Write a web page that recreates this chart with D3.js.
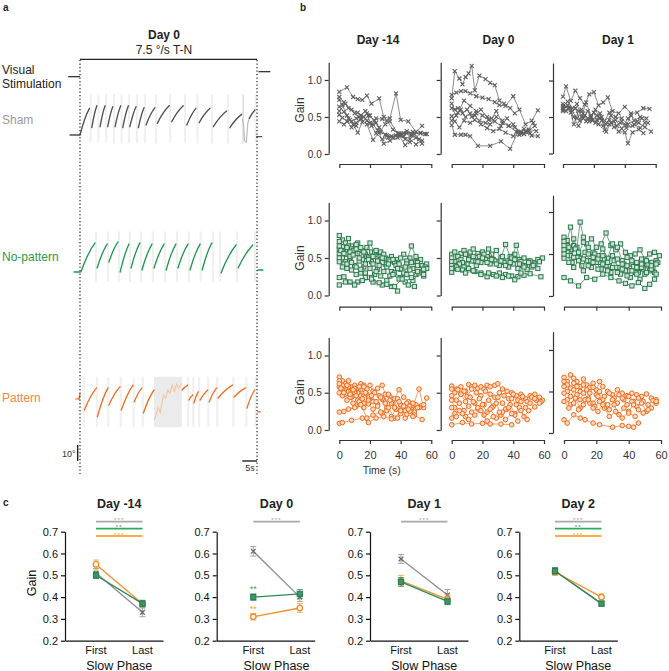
<!DOCTYPE html>
<html><head><meta charset="utf-8">
<script src="https://cdn.jsdelivr.net/npm/d3@7"></script>
<style>body{margin:0;background:#fff} text{font-family:Arial,"Liberation Sans",Helvetica,sans-serif}</style>
</head><body>
<svg id="fig" width="669" height="671"></svg>
<script>
// ---------------- DATA: panel a (eye traces) ----------------
// slow-phase segments: [tStart(s), tEnd(s), posStart(deg), posEnd(deg)]
const shamSegments = [[-3.4,-0.2,-9.4,-9.4],[0,3.2,-9.4,7.3],[4.0,5.7,-4.8,8.9],[6.8,8.5,-4.2,8.9],[9.4,11.1,-4.2,8.3],[11.9,13.8,-4.2,8.9],[14.5,16.4,-4.8,8.9],[16.9,19.0,-4.2,8.3],[19.8,21.7,-4.8,7.7],[22.4,25.4,-3.1,7.7],[26.2,30.3,-2.1,9.0],[31.1,35.0,-1.0,8.9],[36.2,39.3,-3.1,7.3],[40.4,44.1,-1.7,7.3],[45.2,49.7,-4.2,5.6],[50.8,54.8,-4.8,3.5],[57.4,59.3,1,6.3],[59.9,61.6,-10.4,-10.4]];
const shamSaccades = [3.6,6.2,8.9,11.5,14.1,16.6,19.3,22.0,25.8,30.6,35.6,39.8,44.7,50.2,59.5];
const shamArtifact = [[55.0,55.6],[55.0,1],[55.5,-4],[55.8,-13],[56.4,-14],[56.9,-2],[57.3,1]];
const noPatternSegments = [[-2.0,-0.1,-9.4,-9.4],[0.3,5.1,-9.4,8.8],[5.8,9.2,-6.9,8.1],[9.8,12.9,-3.1,9.4],[13.6,16.6,-9.4,8.1],[17.3,20.3,-6.9,8.8],[21.0,24.4,-8.1,8.1],[25.1,28.5,-6.9,8.1],[29.2,32.5,-8.1,8.1],[33.2,36.6,-6.9,8.1],[37.3,40.7,-8.1,8.1],[41.4,44.7,-8.1,8.8],[47.8,52.9,-10,7.5],[53.6,58.6,-6.9,7.5],[60.3,62.0,-8.1,-8.1]];
const noPatternSaccades = [5.4,9.5,13.2,16.9,20.7,24.7,28.8,32.9,36.9,40.9,45.1,47.5,53.2,59.3];
const patternSegments = [[-1.4,-0.3,-0.5,-0.5],[-0.3,0,-0.5,2.5],[1.5,5.6,-7.5,6.3],[5.9,9.5,-11.7,6.3],[9.8,13.6,-4.4,7.1],[14.0,18.0,-7.5,8.1],[18.4,21.0,-2.3,6.3],[21.5,25.1,-9.4,5],[34.6,36.5,5,8.1],[36.9,38.2,-1.3,1.9],[38.6,40.1,-3.1,3.8],[40.7,43.3,-1.3,5],[43.8,46.3,-2.5,6.3],[46.8,51.7,0,8.1],[52.2,56.1,0.6,6.3],[56.6,59.2,-6.3,5],[60.3,61.0,-8.6,-8.6]];
const patternSaccades = [1.3,5.7,9.6,13.8,18.2,21.3,36.7,38.4,40.4,43.5,46.5,52.0,56.4,59.5];
const patternArtifact = [[25.1,34.5],[25.2,-13.8],[26.5,-6],[27.2,-9],[28.3,2],[29,0],[29.8,5],[30.5,3],[31.2,8],[32,4],[32.8,9],[33.5,6],[34.4,9.4]];

// ---------------- DATA: panel b (gain per slow phase, [t,g,t,g,...]) ----------------
const bDays = ["Day -14","Day 0","Day 1"];
const bYTicks = [0, 0.5, 1.0];
const bXTicks = [0, 20, 40, 60];
const shamD14 = [
 [0,.84,5,.90,9,.77,12,.74,15,.73,18,.79,21,.68,26,.75,29,.50,33,.48,37,.82,40,.46,45,.44,50,.30,54,.38],
 [0,.77,3,.70,6,.62,10,.55,13,.50,17,.58,20,.52,24,.42,27,.30,31,.25,35,.22,40,.26,44,.28,48,.30,53,.28,57,.27],
 [0,.73,2,.66,5,.52,8,.44,11,.48,14,.52,18,.45,22,.40,25,.32,29,.14,33,.18,38,.22,42,.24,46,.16,50,.22,54,.14],
 [0,.64,3,.57,6,.48,9,.40,12,.29,15,.43,19,.52,23,.45,26,.36,30,.26,34,.24,39,.26,43,.20,47,.25,52,.20],
 [0,.53,2,.49,5,.44,8,.36,11,.42,14,.47,18,.55,21,.38,24,.28,28,.20,32,.22,37,.25,42,.28,47,.27],
 [0,.44,3,.40,7,.46,11,.38,14,.48,18,.40,22,.19,26,.29,30,.40,33,.44,38,.28,43,.12,46,.20,50,.13,54,.18],
 [0,.58,4,.68,8,.60,12,.56,16,.50,20,.42,24,.48,28,.47,31,.45,35,.33,39,.28,44,.31,49,.27,53,.29,56,.27]];
const shamD0 = [
 [0,.75,2,1.12,5,1.02,7,.94,9,1.04,11,1.09,13,1.19,15,.86,18,1.06,22,1.01,25,.96,28,.93,31,.72,34,.68,38,.62,41,.55],
 [0,.80,3,.83,6,.85,9,.85,12,.82,16,.78,20,.76,24,.74,28,.70,31,.66,35,.65,40,.78,44,.60,48,.40,52,.45,56,.59],
 [0,.68,2,.60,4,.62,7,.55,10,.60,13,.50,16,.55,19,.60,23,.50,26,.48,29,.58,33,.42,37,.38,42,.30,47,.27,51,.28],
 [0,.62,3,.52,6,.60,9,.50,12,.55,15,.52,18,.45,22,.42,25,.40,29,.50,33,.45,37,.38,41,.36,45,.30,50,.33,55,.31],
 [0,.51,2,.44,5,.36,8,.45,12,.42,15,.46,19,.40,23,.35,27,.31,31,.34,35,.29,40,.24,44,.26,48,.30,53,.42],
 [0,.39,2,.26,6,.26,9,.26,12,.24,17,.11,25,.11,32,.17,38,.07,43,.30,47,.34,52,.25,56,.24],
 [0,.45,4,.56,8,.72,12,.65,16,.58,20,.52,24,.46,28,.44,32,.38,36,.48,40,.40,45,.28,50,.31,54,.38]];
const shamD1 = [
 [0,.78,2,.92,5,.72,8,.86,11,.76,14,.67,17,.81,20,.84,23,.66,26,.70,29,.77,32,.58,36,.55,40,.64,44,.55,48,.56,52,.62,56,.61],
 [0,.65,3,.71,6,.62,9,.68,12,.50,15,.70,18,.52,21,.60,24,.48,27,.45,30,.56,34,.50,38,.48,42,.40,46,.45,50,.50,54,.48],
 [0,.62,2,.58,4,.64,7,.40,10,.58,13,.55,16,.48,19,.45,22,.46,25,.50,28,.30,31,.42,35,.38,38,.44,41,.35,45,.38,49,.42,53,.36,57,.30],
 [0,.60,3,.66,6,.58,9,.48,12,.60,15,.44,18,.50,21,.42,24,.55,27,.32,30,.40,33,.44,36,.30,40,.29,42,.14,45,.29,49,.33,52,.28],
 [0,.68,2,.64,5,.56,8,.62,11,.45,14,.52,17,.44,20,.56,23,.40,26,.38,30,.46,33,.36,37,.42,41,.39,44,.52,48,.44,51,.48,55,.42],
 [0,.58,4,.62,7,.50,10,.38,13,.48,16,.58,19,.46,22,.52,25,.45,28,.40,31,.52,34,.46,38,.34,42,.48,46,.40,50,.35,53,.42]];
const noPatD14 = [
 [0,.80,2,.74,4,.70,6,.76,8,.66,10,.62,12,.70,15,.60,18,.64,21,.58,24,.55,27,.58,30,.50,34,.52,38,.48,42,.55,46,.50,50,.45,54,.40,57,.42],
 [0,.72,2,.65,4,.60,6,.66,8,.62,11,.68,14,.64,17,.55,20,.70,23,.58,26,.52,29,.55,32,.48,36,.44,40,.50,44,.46,47,.66,50,.52,53,.48,56,.38],
 [0,.62,2,.58,5,.55,7,.50,9,.60,12,.56,15,.48,18,.52,21,.45,24,.60,27,.48,30,.42,33,.46,37,.40,40,.35,44,.42,48,.36,51,.44,55,.34],
 [0,.56,2,.50,4,.45,7,.52,10,.40,13,.46,16,.38,19,.50,22,.42,25,.35,28,.44,31,.38,34,.32,38,.36,42,.30,46,.34,50,.28,54,.32,57,.36],
 [0,.50,3,.42,5,.36,8,.44,11,.38,14,.30,17,.42,20,.36,23,.28,26,.40,29,.32,33,.26,36,.30,40,.24,44,.28,48,.20,52,.30,55,.26],
 [0,.45,2,.38,5,.42,8,.34,11,.28,14,.35,17,.30,21,.24,24,.32,27,.26,31,.20,35,.28,39,.22,43,.18,47,.24,51,.32,55,.28],
 [0,.24,3,.25,7,.18,12,.18,17,.24,22,.18,28,.14,34,.12,38,.06],
 [0,.14,4,.18,10,.14,15,.20,21,.22,26,.17,31,.15,36,.12,41,.22,45,.14,49,.12],
 [0,.66,1,.60,3,.56,5,.64,7,.58,9,.54,11,.62,13,.50,16,.58,19,.48,22,.52,25,.46,28,.50,32,.42,35,.48,39,.42,43,.38,47,.44,51,.40,55,.35]];
const noPatD0 = [
 [0,.55,2,.58,4,.52,6,.56,8,.60,10,.55,12,.58,14,.62,17,.56,20,.58,23,.52,26,.55,29,.60,32,.50,35,.68,38,.52,41,.55,44,.48,47,.50,50,.46,53,.44,56,.48,59,.50],
 [0,.50,2,.45,4,.52,6,.48,9,.55,12,.50,15,.46,18,.52,21,.55,24,.62,27,.48,30,.45,33,.52,36,.46,39,.50,42,.67,45,.45,48,.40,51,.46,54,.42,57,.45],
 [0,.45,2,.40,4,.38,7,.44,10,.42,13,.46,16,.40,19,.44,22,.48,25,.42,28,.46,31,.40,34,.44,37,.38,40,.42,43,.36,46,.40,49,.35,52,.38],
 [0,.40,2,.36,5,.42,8,.38,11,.48,14,.52,17,.45,20,.50,23,.44,26,.48,29,.42,32,.46,35,.40,38,.44,41,.48,44,.42,47,.38,50,.44,53,.40,56,.36],
 [0,.31,3,.38,7,.34,11,.36,15,.32,19,.30,23,.25,27,.28,31,.30,35,.28,39,.26,43,.25,47,.27,51,.29,58,.25],
 [0,.36,4,.35,9,.30,14,.33,19,.28,24,.30,29,.26,33,.24,37,.26,41,.21,45,.30]];
const noPatD1 = [
 [0,.70,2,.66,4,.82,6,.60,8,.58,10,.88,12,.70,14,.62,17,.68,20,.58,23,.62,26,.75,29,.60,32,.55,35,.62,38,.52,41,.48,44,.50,47,.55,50,.44,53,.50,56,.52,59,.48],
 [0,.65,2,.60,4,.55,6,.68,9,.50,12,.64,15,.58,18,.52,21,.48,24,.56,27,.45,30,.62,33,.58,36,.42,39,.46,42,.38,45,.40,48,.44,51,.36,54,.40,57,.42],
 [0,.60,2,.52,4,.48,7,.56,10,.45,13,.52,16,.42,19,.50,22,.40,25,.44,28,.36,31,.42,34,.34,37,.38,40,.30,43,.35,46,.28,49,.32,52,.38,55,.34,58,.40],
 [0,.55,2,.48,5,.40,8,.46,11,.36,14,.42,17,.34,20,.40,23,.32,26,.36,29,.28,32,.34,35,.26,38,.30,41,.22,44,.28,47,.20,50,.26,53,.30,56,.28],
 [0,.45,3,.40,6,.34,9,.42,12,.30,15,.36,18,.40,21,.32,24,.38,27,.30,30,.34,33,.28,36,.32,39,.24,42,.30,45,.26,48,.34,51,.28,54,.32,57,.26],
 [0,.22,4,.18,9,.12,14,.22,19,.20,24,.26,29,.22,34,.18,38,.15,42,.12,46,.16,50,.09,53,.14,56,.20],
 [0,.50,3,.58,6,.46,9,.52,12,.44,15,.50,18,.46,21,.44,24,.48,27,.40,30,.48,33,.44,36,.38,39,.36,42,.42,45,.34,48,.38,51,.42,54,.36,57,.38]];
const patD14 = [
 [0,.71,2,.66,4,.62,6,.66,8,.58,10,.60,12,.56,14,.62,16,.60,18,.55,20,.60,22,.52,25,.56,28,.60,30,.48,33,.45,36,.42,39,.54,42,.44,45,.38,48,.32,52,.55,55,.30,57,.43],
 [0,.66,2,.60,4,.55,6,.58,8,.52,10,.56,12,.50,14,.54,16,.58,18,.48,20,.44,23,.50,26,.46,29,.40,32,.48,35,.36,38,.42,41,.30,44,.36,47,.28,50,.34,53,.32],
 [0,.58,2,.54,4,.48,6,.52,8,.44,10,.50,12,.40,14,.46,16,.36,19,.44,22,.38,25,.34,28,.42,31,.30,34,.36,37,.28,40,.34,43,.26,46,.32,49,.24,52,.30,55,.34],
 [0,.50,2,.46,5,.40,7,.44,9,.36,11,.32,13,.38,16,.30,19,.35,22,.28,25,.32,28,.22,31,.26,34,.18,37,.28,40,.22,43,.16,46,.25,49,.20,54,.14],
 [0,.24,3,.25,6,.28,10,.30,14,.34,18,.16,22,.20,27,.24,32,.30,36,.16,40,.26,44,.21,48,.18],
 [0,.09,2,.10,8,.13,15,.16,19,.10,24,.16,29,.18,34,.15,38,.16],
 [0,.62,1,.56,3,.50,5,.60,7,.48,9,.54,11,.46,13,.58,15,.42,17,.50,19,.40,21,.46,24,.38,27,.44,30,.36,33,.40,36,.30,39,.38,42,.32,45,.28,48,.36,51,.30]];
const patD0 = [
 [0,.59,3,.55,6,.58,9,.52,11,.61,13,.58,15,.60,17,.56,19,.58,21,.55,23,.60,25,.58,28,.60,30,.62,33,.55,36,.52,39,.50,42,.46,45,.48,48,.42,51,.46,54,.48,57,.44,59,.40],
 [0,.55,2,.50,4,.54,6,.48,8,.52,10,.45,13,.55,16,.50,19,.46,22,.52,25,.48,28,.44,31,.50,34,.46,37,.42,40,.48,43,.40,46,.45,49,.38,52,.44,55,.40,58,.38],
 [0,.46,3,.40,6,.48,9,.38,12,.44,15,.36,18,.42,21,.34,24,.40,27,.32,30,.44,33,.36,36,.28,39,.42,42,.34,45,.38,48,.30,51,.36,54,.42,57,.36],
 [0,.40,2,.30,5,.36,8,.26,11,.32,14,.38,17,.28,20,.34,23,.24,26,.30,29,.36,32,.20,35,.28,38,.34,41,.22,44,.30,47,.18,50,.26,54,.31],
 [0,.30,2,.22,5,.26,9,.18,13,.24,17,.30,21,.20,25,.28,29,.16,33,.24,37,.30,41,.20,45,.26,49,.14],
 [0,.16,3,.18,7,.22,11,.14,15,.20,19,.26,23,.12,27,.18,31,.24,35,.14,39,.22,43,.12],
 [0,.07,7,.10,13,.08,20,.09,25,.08,32,.08,39,.07]];
const patD1 = [
 [0,.67,2,.62,4,.70,6,.66,8,.62,10,.56,12,.65,14,.58,16,.55,18,.60,20,.52,22,.62,24,.56,27,.50,30,.46,33,.52,36,.48,39,.45,42,.48,45,.46,48,.44,51,.47,54,.42,57,.40],
 [0,.62,2,.58,4,.54,6,.60,8,.56,10,.50,12,.58,14,.52,16,.48,18,.55,20,.46,22,.50,25,.44,28,.48,31,.42,34,.46,37,.40,40,.44,43,.38,46,.42,49,.38,52,.34,55,.39,57,.36],
 [0,.56,2,.50,4,.44,6,.52,8,.46,10,.40,12,.48,15,.42,18,.36,21,.44,24,.40,27,.34,30,.40,33,.36,36,.42,39,.34,42,.38,45,.32,48,.36,51,.26,54,.30,57,.38],
 [0,.48,2,.40,4,.34,7,.42,10,.30,13,.40,16,.36,19,.32,22,.38,25,.30,28,.28,31,.34,34,.22,37,.30,40,.26,43,.34,46,.28,49,.24,52,.28],
 [0,.38,3,.30,6,.36,9,.28,12,.34,15,.40,18,.30,21,.26,24,.34,28,.20,32,.26,36,.18,40,.24,44,.20],
 [0,.16,2,.12,6,.22,10,.18,13,.16,18,.12,22,.10,30,.07,36,.09,40,.08,43,.07,46,.12]];

// ---------------- DATA: panel c (mean gain first/last slow phase) ----------------
const cDays = ["Day -14","Day 0","Day 1","Day 2"];
const cPhases = ["First","Last"];
const cYTicks = [0.2,0.3,0.4,0.5,0.6,0.7];
const cSham = [[0.51,0.33],[0.61,0.40],[0.575,0.41],[0.52,0.37]];
const cShamErr = [[0.02,0.02],[0.022,0.02],[0.02,0.025],[0.015,0.01]];
const cNoPat = [[0.50,0.37],[0.40,0.415],[0.47,0.38],[0.52,0.37]];
const cNoPatErr = [[0.015,0.015],[0.015,0.02],[0.02,0.015],[0.015,0.01]];
const cPat = [[0.55,0.37],[0.31,0.35],[0.475,0.39],[0.515,0.40]];
const cPatErr = [[0.02,0.015],[0.015,0.02],[0.025,0.02],[0.015,0.015]];
const cSigSham = ["***","***","***","***"];
const cSigNoPat = ["**",null,null,"**"];
const cSigPat = ["***",null,null,"***"];
const cMarkNoPatFirst = [null,"**",null,null];
const cMarkPatFirst = [null,"**",null,null];

// ---------------- DRAWING ----------------
const svg = d3.select("#fig");
function T(g,x,y,s,o={}){
  const t=g.append("text").attr("x",x).attr("y",y).text(s)
    .attr("font-size",o.size||11).attr("fill",o.fill||"#222")
    .attr("text-anchor",o.anchor||"start");
  if(o.bold) t.attr("font-weight","bold");
  if(o.ls) t.attr("letter-spacing",o.ls);
  if(o.rotate) t.attr("transform",`rotate(-90,${x},${y})`);
  return t;
}
// panel labels
T(svg,3,11,"a",{size:10,bold:true});
T(svg,300,11,"b",{size:10,bold:true});
T(svg,3,506,"c",{size:10,bold:true});

// ===== Panel a =====
const gA = svg.append("g");
const xA = d3.scaleLinear().domain([0,60]).range([80,257]);
T(gA,164,38.5,"Day 0",{size:12,bold:true,anchor:"middle"});
T(gA,164,54,"7.5 °/s T-N",{size:12,anchor:"middle"});
T(gA,2,74,"Visual",{size:12});
T(gA,2,88,"Stimulation",{size:12});
// stimulation trace
gA.append("path").attr("d",`M${xA(-4)},76.7H${xA(0)}`).attr("stroke","#222").attr("stroke-width",1.2);
gA.append("path").attr("d",`M${xA(0)},59.3H${xA(60)}`).attr("stroke","#222").attr("stroke-width",1.2);
gA.append("path").attr("d",`M${xA(60.5)},71.7H${xA(64.5)}`).attr("stroke","#222").attr("stroke-width",1.2);

const traces = [
 {label:"Sham", segs:shamSegments, sacc:shamSaccades, art:shamArtifact, center:120, col:"#505050", lab:"#9a9a9a", band:[16,-14.5], artCol:"#b8b8b8", artFill:"#e2e2e2"},
 {label:"No-pattern", segs:noPatternSegments, sacc:noPatternSaccades, art:null, center:257, col:"#1e9a4c", lab:"#2f9a44", band:[16,-15.5]},
 {label:"Pattern", segs:patternSegments, sacc:patternSaccades, art:patternArtifact, center:398, col:"#f26f22", lab:"#f3873a", band:[13.3,-18.3], artCol:"#f7c4a0", artFill:"#ebebeb"}
];
traces.forEach(tr=>{
  const yA = d3.scaleLinear().domain([-20,20]).range([tr.center+32,tr.center-32]);
  const g = gA.append("g");
  // saccade bands
  g.selectAll("rect.s").data(tr.sacc).join("rect")
    .attr("x",d=>xA(d-0.35)).attr("width",d=>xA(d+0.35)-xA(d-0.35))
    .attr("y",yA(tr.band[0])).attr("height",yA(tr.band[1])-yA(tr.band[0]))
    .attr("fill","#f0f0f0");
  if(tr.art){
    const span = tr.art[0], pts = tr.art.slice(1);
    g.append("rect").attr("x",xA(span[0])).attr("width",xA(span[1])-xA(span[0]))
      .attr("y",yA(tr.band[0])).attr("height",yA(tr.band[1])-yA(tr.band[0])).attr("fill",tr.artFill);
    g.append("path").attr("d",d3.line().x(d=>xA(d[0])).y(d=>yA(d[1]))(pts))
      .attr("fill","none").attr("stroke",tr.artCol).attr("stroke-width",1.1);
  }
  tr.segs.forEach(s=>{
    const x0=xA(s[0]),x1=xA(s[1]),y0=yA(s[2]),y1=yA(s[3]);
    const p=d3.path(); p.moveTo(x0,y0);
    p.quadraticCurveTo(x0+0.5*(x1-x0), y0+0.68*(y1-y0), x1, y1);
    g.append("path").attr("d",p.toString()).attr("fill","none")
      .attr("stroke",tr.col).attr("stroke-width",1.35).attr("stroke-linecap","round");
  });
  T(gA,2,tr.center+4,tr.label,{size:12,fill:tr.lab});
});
// dotted stimulus on/off lines
[0,60].forEach(t=>{
  gA.append("line").attr("x1",xA(t)).attr("x2",xA(t)).attr("y1",60).attr("y2",474)
    .attr("stroke","#222").attr("stroke-width",1.2).attr("stroke-dasharray","1.3,2.2");
});
// scale bars
const degBar = d3.scaleLinear().domain([0,10]).range([461,445]);
gA.append("line").attr("x1",77.7).attr("x2",77.7).attr("y1",degBar(0)).attr("y2",degBar(10)).attr("stroke","#111").attr("stroke-width",1.3);
T(gA,75.5,457,"10°",{size:9,anchor:"end",fill:"#333"});
gA.append("line").attr("x1",xA(55)).attr("x2",xA(60)).attr("y1",461).attr("y2",461).attr("stroke","#111").attr("stroke-width",1.3);
T(gA,xA(57.6),470.5,"5s",{size:9,anchor:"middle",fill:"#333"});

// ===== Panel b =====
const gB = svg.append("g");
const bTitleX = [378, 498.5, 618];
bDays.forEach((d,i)=>T(gB,bTitleX[i],44,d,{size:12,bold:true,anchor:"middle"}));
const bAxisX = [328.7, 440.7, 553];
const bLayout = [
 [{y0:154,yt:62.2,ym:1.24,xa:164,xr:[339.3,431.3]},{y0:154,yt:62.2,ym:1.24,xa:164,xr:[451.7,544]},{y0:153.5,yt:63,ym:1.24,xa:164,xr:[563,655.7]}],
 [{y0:295.5,yt:202.5,ym:1.24,xa:306.7,xr:[339.3,431.3]},{y0:295.5,yt:202.5,ym:1.24,xa:306.7,xr:[451.7,544]},{y0:296,yt:195.2,ym:1.2,xa:306.7,xr:[564,661]}],
 [{y0:430,yt:337.6,ym:1.24,xa:440,xr:[339.3,431.3]},{y0:430,yt:337.6,ym:1.24,xa:440,xr:[451.7,544]},{y0:433,yt:331.7,ym:1.22,xa:440,xr:[564,661]}]
];
const bRows = [
 {data:[shamD14,shamD0,shamD1], line:"#5a5a5a", mk:"x", stroke:"#5f5f5f", fill:"none"},
 {data:[noPatD14,noPatD0,noPatD1], line:"#2d7a50", mk:"sq", stroke:"#2b7a4e", fill:"#cfe3d5"},
 {data:[patD14,patD0,patD1], line:"#f07a2c", mk:"ci", stroke:"#f0691a", fill:"#fdd9bd"}
];
const bGainY = [110, 258, 392];
bRows.forEach((row,ri)=>{
  T(gB,303.5,bGainY[ri],"Gain",{size:12,anchor:"middle",rotate:true,fill:"#333"});
  row.data.forEach((ser,ci)=>{
    const L = bLayout[ri][ci];
    const x = d3.scaleLinear().domain([0,60]).range(L.xr);
    const y = d3.scaleLinear().domain([0,L.ym]).range([L.y0,L.yt]);
    const g = gB.append("g");
    const yAx = g.append("g").attr("transform",`translate(${bAxisX[ci]},0)`)
      .call(d3.axisLeft(y).tickValues(bYTicks).tickSize(4).tickSizeOuter(0)
        .tickFormat(ci===0?d3.format(".1f"):()=>""));
    const xAx = g.append("g").attr("transform",`translate(0,${L.xa})`)
      .call(d3.axisBottom(x).tickValues(bXTicks).tickSize(4).tickSizeOuter(0)
        .tickFormat(ri===2?d3.format("d"):()=>""));
    [yAx,xAx].forEach(a=>{
      a.selectAll("path,line").attr("stroke","#333").attr("stroke-width",1.2);
      a.selectAll("text").attr("font-size",ri===2&&a===xAx?11:10).attr("fill","#333")
        .attr("font-family",'Arial,"Liberation Sans",sans-serif');
    });
    xAx.selectAll("text").attr("dy","1.05em");
    ser.forEach(arr=>{
      const pts=[]; for(let k=0;k<arr.length;k+=2) pts.push([arr[k],arr[k+1]]);
      g.append("path").attr("d",d3.line().x(d=>x(d[0])).y(d=>y(d[1]))(pts))
        .attr("fill","none").attr("stroke",row.line).attr("stroke-width",0.7);
      pts.forEach(d=>{
        const px=x(d[0]), py=y(d[1]);
        if(row.mk==="x"){
          g.append("path").attr("d",`M${px-2},${py-2}L${px+2},${py+2}M${px-2},${py+2}L${px+2},${py-2}`)
            .attr("stroke",row.stroke).attr("stroke-width",1.1);
        } else if(row.mk==="sq"){
          g.append("rect").attr("x",px-2.1).attr("y",py-2.1).attr("width",4.2).attr("height",4.2)
            .attr("fill",row.fill).attr("stroke",row.stroke).attr("stroke-width",1);
        } else {
          g.append("circle").attr("cx",px).attr("cy",py).attr("r",2.3)
            .attr("fill",row.fill).attr("stroke",row.stroke).attr("stroke-width",1);
        }
      });
    });
  });
});
T(gB,381.7,474,"Time (s)",{size:10.5,anchor:"middle",fill:"#333"});

// ===== Panel c =====
const gC = svg.append("g");
const cAxisX = [65, 216.7, 370, 519.3];
const cFirstOff = [31, 36.6, 31, 35.7];
const yC = d3.scaleLinear().domain([0.2,0.7]).range([640.7,531.7]);
const cGroups = [
 {vals:cSham, err:cShamErr, line:"#8d8d8d", mk:"x", stroke:"#6c6c6c", fill:"none", sig:cSigSham, sigCol:"#a9a9a9", starCol:"#9a9a9a"},
 {vals:cPat, err:cPatErr, line:"#f5902a", mk:"ci", stroke:"#f28a24", fill:"#fff", sig:cSigPat, sigCol:"#f9ab45", starCol:"#f5a040"},
 {vals:cNoPat, err:cNoPatErr, line:"#2b8a55", mk:"sq", stroke:"#277a4c", fill:"#3a9866", sig:cSigNoPat, sigCol:"#2eaa5a", starCol:"#2a9a50"}
];
const sigY = {"#a9a9a9":521.7, "#2eaa5a":528.7, "#f9ab45":536};
cDays.forEach((day,i)=>{
  const ax = cAxisX[i];
  const x = d3.scalePoint().domain(cPhases).range([ax+cFirstOff[i], ax+cFirstOff[i]+46.5]);
  const g = gC.append("g");
  const mid = (x("First")+x("Last"))/2;
  T(g,mid,507.5,day,{size:12.5,bold:true,anchor:"middle"});
  const yAx = g.append("g").attr("transform",`translate(${ax},0)`)
    .call(d3.axisLeft(yC).tickValues(cYTicks).tickSize(4).tickSizeOuter(0).tickFormat(d3.format(".1f")));
  const xScaleLine = d3.scaleLinear().domain([0,1]).range([ax, ax+98]);
  const xAx = g.append("g").attr("transform",`translate(0,${yC(0.2)})`)
    .call(d3.axisBottom(xScaleLine).tickValues([]).tickSizeOuter(0));
  [yAx,xAx].forEach(a=>a.selectAll("path,line").attr("stroke","#111").attr("stroke-width",1.2));
  yAx.selectAll("text").attr("font-size",11).attr("fill","#111").attr("font-family",'Arial,"Liberation Sans",sans-serif');
  cPhases.forEach(p=>T(g,x(p),654,p,{size:11,anchor:"middle",fill:"#111"}));
  T(g,mid,669.5,"Slow Phase",{size:12.5,anchor:"middle",fill:"#111"});
  if(i===0) T(g,36,583,"Gain",{size:12.5,anchor:"middle",rotate:true,fill:"#111"});
  // significance bars
  cGroups.forEach(G=>{
    if(!G.sig[i]) return;
    const sy = sigY[G.sigCol];
    g.append("line").attr("x1",x("First")).attr("x2",x("Last")).attr("y1",sy).attr("y2",sy)
      .attr("stroke",G.sigCol).attr("stroke-width",1.8);
    T(g,mid,sy+0.6,G.sig[i],{size:6,anchor:"middle",fill:G.starCol,ls:1.2});
  });
  cGroups.forEach(G=>{
    const v=G.vals[i], e=G.err[i];
    g.append("line").attr("x1",x("First")).attr("x2",x("Last")).attr("y1",yC(v[0])).attr("y2",yC(v[1]))
      .attr("stroke",G.line).attr("stroke-width",1.3);
    cPhases.forEach((p,k)=>{
      const px=x(p), py=yC(v[k]);
      g.append("path").attr("d",`M${px},${yC(v[k]-e[k])}V${yC(v[k]+e[k])}M${px-3},${yC(v[k]-e[k])}H${px+3}M${px-3},${yC(v[k]+e[k])}H${px+3}`)
        .attr("stroke",G.line).attr("stroke-width",0.9).attr("fill","none").attr("opacity",0.85);
      if(G.mk==="x"){
        g.append("path").attr("d",`M${px-2.3},${py-2.3}L${px+2.3},${py+2.3}M${px-2.3},${py+2.3}L${px+2.3},${py-2.3}`)
          .attr("stroke",G.stroke).attr("stroke-width",1.4);
      } else if(G.mk==="sq"){
        g.append("rect").attr("x",px-2.6).attr("y",py-2.6).attr("width",5.2).attr("height",5.2)
          .attr("fill",G.fill).attr("stroke",G.stroke).attr("stroke-width",1);
      } else {
        g.append("circle").attr("cx",px).attr("cy",py).attr("r",2.7)
          .attr("fill",G.fill).attr("stroke",G.stroke).attr("stroke-width",1.3);
      }
    });
  });
  if(cMarkNoPatFirst[i]) T(g,x("First"),yC(cNoPat[i][0]+0.022),cMarkNoPatFirst[i],{size:9,anchor:"middle",fill:"#3aa060"});
  if(cMarkPatFirst[i]) T(g,x("First"),yC(cPat[i][0]+0.022),cMarkPatFirst[i],{size:9,anchor:"middle",fill:"#f5a040"});
});
</script>
</body></html>
